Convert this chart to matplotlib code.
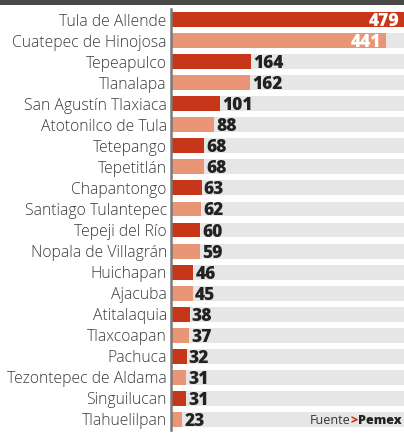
import matplotlib
matplotlib.use("Agg")
import matplotlib.pyplot as plt
from matplotlib.patches import Rectangle

municipios = ["Tula de Allende", "Cuatepec de Hinojosa", "Tepeapulco", "Tlanalapa",
              "San Agustín Tlaxiaca", "Atotonilco de Tula", "Tetepango", "Tepetitlán",
              "Chapantongo", "Santiago Tulantepec", "Tepeji del Río", "Nopala de Villagrán",
              "Huichapan", "Ajacuba", "Atitalaquia", "Tlaxcoapan", "Pachuca",
              "Tezontepec de Aldama", "Singuilucan", "Tlahuelilpan"]
valores = [479, 441, 164, 162, 101, 88, 68, 68, 63, 62, 60, 59, 46, 45, 38, 37, 32, 31, 31, 23]

RED = "#c8361a"
SALMON = "#e89676"
GRAY = "#e6e6e6"

W, H = 404, 433
fig = plt.figure(figsize=(W / 100, H / 100), dpi=100)
fig.patch.set_facecolor("white")

# top dark band
fig.patches.append(Rectangle((0, 1 - 5 / H), 1, 5 / H, transform=fig.transFigure,
                             facecolor="#4a4748", edgecolor="none"))

left_px = 171
top_px, bot_px = 9, 430
ax = fig.add_axes([left_px / W, 1 - bot_px / H, 1 - left_px / W, (bot_px - top_px) / H])
xmax = 477
ax.set_xlim(0, xmax)
ax.set_ylim(len(valores) - 0.5, -0.5)

ys = list(range(len(valores)))
ax.barh(ys, [xmax] * len(valores), height=0.71, color=GRAY, left=0, zorder=1)
colors = [RED if i % 2 == 0 else SALMON for i in range(len(valores))]
ax.barh(ys, valores, height=0.71, color=colors, zorder=2)

for sp in ["top", "right", "bottom"]:
    ax.spines[sp].set_visible(False)
ax.spines["left"].set_color("#7a7a7a")
ax.spines["left"].set_linewidth(1.8)
ax.spines["left"].set_zorder(5)
ax.set_xticks([])
ax.set_yticks(ys)
ax.set_yticklabels(municipios, fontsize=11.3, color="#3a3a3a",
                   fontfamily="Open Sans", fontweight="light")
ax.tick_params(axis="y", length=0, pad=3)
ax.set_facecolor("none")

for i, v in enumerate(valores):
    if v > 300:
        ax.annotate(str(v), (v, i), xytext=(-5, 0), textcoords="offset pixels",
                    ha="right", va="center_baseline", fontsize=12.5, fontweight="heavy",
                    fontfamily="Open Sans", color="white", zorder=6, annotation_clip=False)
    else:
        ax.annotate(str(v), (v, i), xytext=(2, 0), textcoords="offset pixels",
                    ha="left", va="center_baseline", fontsize=12.5, fontweight="heavy",
                    fontfamily="Open Sans", color="#222222", zorder=6)

# source note
y_src = 1 - 421 / H
t1 = fig.text(310 / W, y_src, "Fuente", fontsize=9.0, color="#333333",
              fontfamily="Open Sans", va="center", ha="left")
fig.canvas.draw()
bb = t1.get_window_extent()
t2 = fig.text(bb.x1 / W, y_src, ">", fontsize=9.0, color=RED, fontweight="heavy",
              fontfamily="Open Sans", va="center", ha="left")
fig.canvas.draw()
bb2 = t2.get_window_extent()
fig.text(bb2.x1 / W, y_src, "Pemex", fontsize=9.0, color="#222222", fontweight="heavy",
         fontfamily="Open Sans", va="center", ha="left")

fig.savefig("out.png", dpi=100, facecolor="white")
